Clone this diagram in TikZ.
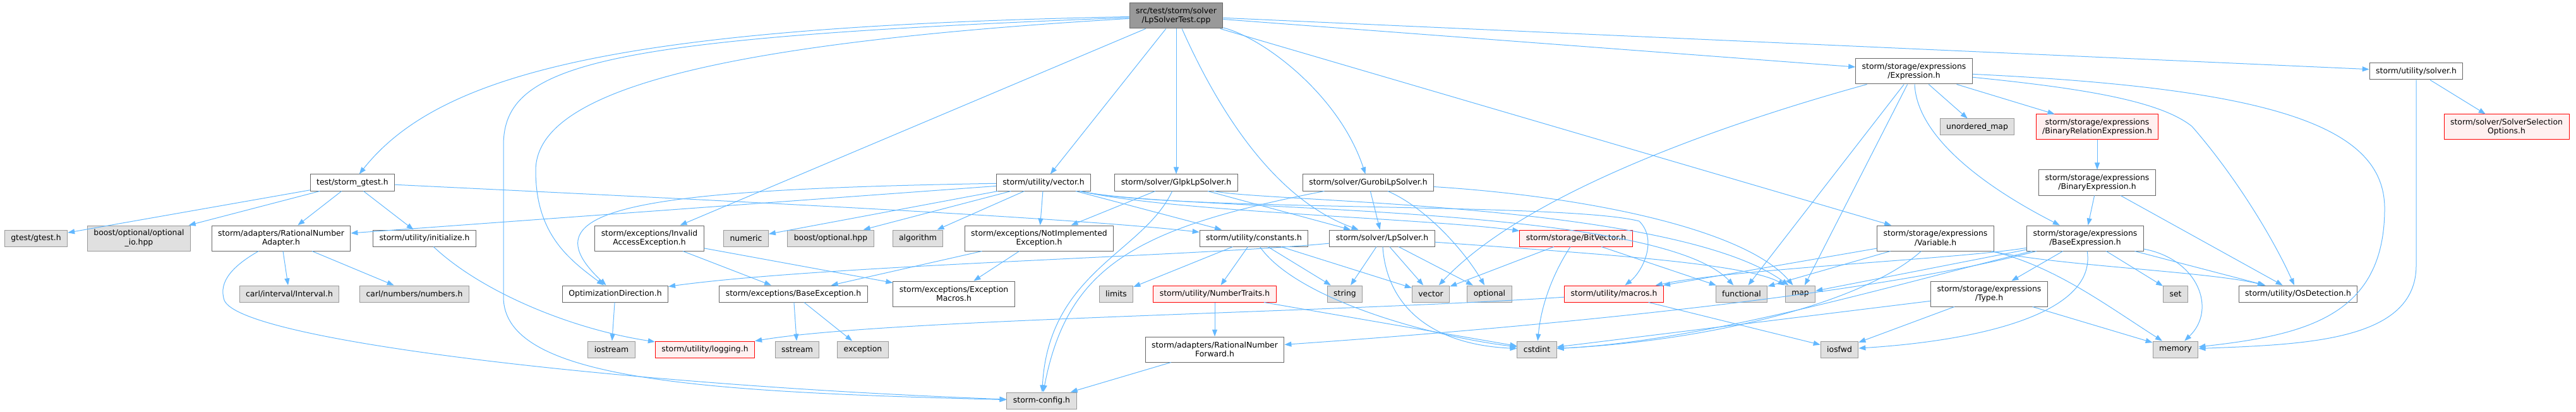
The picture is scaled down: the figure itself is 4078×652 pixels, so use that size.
\documentclass[tikz,border=0pt]{standalone}
\usepackage{fontspec}
\setmainfont{DejaVu Sans}
\usetikzlibrary{arrows.meta}
\definecolor{edgeblue}{HTML}{63B8FF}
\definecolor{boxgray}{HTML}{666666}
\definecolor{sysgray}{HTML}{999999}
\definecolor{sysfill}{HTML}{E0E0E0}
\definecolor{truncfill}{HTML}{FFF0F0}
\definecolor{rootfill}{HTML}{999999}
\newcommand{\graphfont}{\fontsize{12.4}{14.6}\selectfont}
\tikzset{
  hdr/.style={draw=boxgray, fill=white, line width=1pt, font=\graphfont, align=center,
    inner xsep=10pt, inner ysep=2pt, minimum height=26pt},
  tall/.style={minimum height=40pt},
  sysbox/.style={hdr, draw=sysgray, fill=sysfill},
  truncbox/.style={hdr, draw=red, fill=truncfill},
  mainbox/.style={hdr, tall, fill=rootfill},
  incl/.style={draw=edgeblue, line width=1pt, -{Triangle[length=11pt,width=8pt]}},
}
\begin{document}
\begin{tikzpicture}[x=1pt, y=-1pt]
  \useasboundingbox (0,0) rectangle (4078,652);
  \node[mainbox] (root) at (1862,25) {src/test/storm/solver\\/LpSolverTest.cpp};
  \node[hdr, tall] (expr) at (3030,113) {storm/storage/expressions\\/Expression.h};
  \node[hdr] (solverh) at (3825,113) {storm/utility/solver.h};
  \node[sysbox] (umap) at (3130,201) {unordered\_map};
  \node[truncbox, tall] (binrel) at (3320,201) {storm/storage/expressions\\/BinaryRelationExpression.h};
  \node[truncbox, tall] (selopt) at (3968,201) {storm/solver/SolverSelection\\Options.h};
  \node[hdr] (gtesth) at (558,289) {test/storm\_gtest.h};
  \node[hdr] (vectorh) at (1652,289) {storm/utility/vector.h};
  \node[hdr] (glpk) at (1862,289) {storm/solver/GlpkLpSolver.h};
  \node[hdr] (gurobi) at (2166,289) {storm/solver/GurobiLpSolver.h};
  \node[hdr, tall] (binexpr) at (3320,289) {storm/storage/expressions\\/BinaryExpression.h};

  \node[sysbox] (gtest) at (57,377) {gtest/gtest.h};
  \node[sysbox, tall] (optio) at (220,377) {boost/optional/optional\\\_io.hpp};
  \node[hdr, tall] (rnadapter) at (445,377) {storm/adapters/RationalNumber\\Adapter.h};
  \node[hdr] (init) at (672,377) {storm/utility/initialize.h};
  \node[hdr, tall] (invalid) at (1028,377) {storm/exceptions/Invalid\\AccessException.h};
  \node[sysbox] (numeric) at (1181,377) {numeric};
  \node[sysbox] (boostopt) at (1315,377) {boost/optional.hpp};
  \node[sysbox] (algorithm) at (1453,377) {algorithm};
  \node[hdr, tall] (notimpl) at (1645,377) {storm/exceptions/NotImplemented\\Exception.h};
  \node[hdr] (constants) at (1985,377) {storm/utility/constants.h};
  \node[hdr] (lpsolver) at (2188,377) {storm/solver/LpSolver.h};
  \node[truncbox] (bitvector) at (2495,377) {storm/storage/BitVector.h};
  \node[hdr, tall] (variable) at (3064,377) {storm/storage/expressions\\/Variable.h};
  \node[hdr, tall] (baseexpr) at (3301,377) {storm/storage/expressions\\/BaseExpression.h};

  \node[sysbox] (carlint) at (458,465) {carl/interval/Interval.h};
  \node[sysbox] (carlnum) at (656,465) {carl/numbers/numbers.h};
  \node[hdr] (optdir) at (974,465) {OptimizationDirection.h};
  \node[hdr] (baseexc) at (1256,465) {storm/exceptions/BaseException.h};
  \node[hdr, tall] (excmacros) at (1510,465) {storm/exceptions/Exception\\Macros.h};
  \node[sysbox] (limits) at (1767,465) {limits};
  \node[truncbox] (numtraits) at (1923,465) {storm/utility/NumberTraits.h};
  \node[sysbox] (string) at (2129,465) {string};
  \node[sysbox] (stdvector) at (2265,465) {vector};
  \node[sysbox] (optional) at (2358,465) {optional};
  \node[truncbox] (macros) at (2555,465) {storm/utility/macros.h};
  \node[sysbox] (functional) at (2757,465) {functional};
  \node[sysbox] (map) at (2850,465) {map};
  \node[hdr, tall] (type) at (3149,465) {storm/storage/expressions\\/Type.h};
  \node[sysbox] (set) at (3444,465) {set};
  \node[hdr] (osdet) at (3638,465) {storm/utility/OsDetection.h};

  \node[sysbox] (iostream) at (968,553) {iostream};
  \node[truncbox] (logging) at (1116,553) {storm/utility/logging.h};
  \node[sysbox] (sstream) at (1262,553) {sstream};
  \node[sysbox] (exception) at (1366,553) {exception};
  \node[hdr, tall] (rnforward) at (1923,553) {storm/adapters/RationalNumber\\Forward.h};
  \node[sysbox] (cstdint) at (2433,553) {cstdint};
  \node[sysbox] (iosfwd) at (2912,553) {iosfwd};
  \node[sysbox] (memory) at (3444,553) {memory};
  \node[sysbox] (stormcfg) at (1649,634) {storm-config.h};

  \draw[incl] (root) .. controls (1000,42) and (700,110) .. (gtesth);
  \draw[incl] (root) .. controls (950,60) and (797,100) .. (797,230) -- (797,470)
    .. controls (797,600) and (1100,620) .. (stormcfg);
  \draw[incl] (root) .. controls (1100,70) and (848,150) .. (848,270)
    .. controls (848,370) and (900,410) .. (optdir);
  \draw[incl] (root) -- (invalid);
  \draw[incl] (root) -- (vectorh);
  \draw[incl] (root) -- (glpk);
  \draw[incl] (root) .. controls (1940,200) and (2030,320) .. (lpsolver);
  \draw[incl] (root) .. controls (2000,60) and (2120,150) .. (gurobi);
  \draw[incl] (root) -- (variable);
  \draw[incl] (root) -- (expr);
  \draw[incl] (root) -- (solverh);

  \draw[incl] (gtesth) -- (gtest);
  \draw[incl] (gtesth) -- (optio);
  \draw[incl] (gtesth) -- (rnadapter);
  \draw[incl] (gtesth) -- (init);
  \draw[incl] (gtesth) .. controls (1200,320) and (1700,345) .. (constants);
  \draw[incl] (rnadapter) -- (carlint);
  \draw[incl] (rnadapter) -- (carlnum);
  \draw[incl] (rnadapter) .. controls (370,420) and (345,445) .. (355,475)
    .. controls (380,540) and (1000,610) .. (stormcfg);
  \draw[incl] (init) .. controls (760,460) and (900,520) .. (logging);

  \draw[incl] (vectorh) -- (rnadapter);
  \draw[incl] (vectorh) .. controls (1000,300) and (830,330) .. (optdir);
  \draw[incl] (vectorh) -- (numeric);
  \draw[incl] (vectorh) -- (boostopt);
  \draw[incl] (vectorh) -- (algorithm);
  \draw[incl] (vectorh) -- (notimpl);
  \draw[incl] (vectorh) -- (constants);
  \draw[incl] (vectorh) .. controls (1850,335) and (2250,345) .. (bitvector);
  \draw[incl] (vectorh) .. controls (1850,335) and (2480,320) .. (2595,350)
    .. controls (2625,380) and (2600,430) .. (macros);
  \draw[incl] (vectorh) .. controls (1850,335) and (2620,320) .. (functional);

  \draw[incl] (glpk) -- (lpsolver);
  \draw[incl] (glpk) -- (notimpl);
  \draw[incl] (glpk) .. controls (1810,400) and (1660,430) .. (stormcfg);
  \draw[incl] (glpk) .. controls (2000,320) and (2650,320) .. (map);
  \draw[incl] (gurobi) -- (lpsolver);
  \draw[incl] (gurobi) .. controls (1800,360) and (1690,420) .. (stormcfg);
  \draw[incl] (gurobi) .. controls (2260,330) and (2320,400) .. (optional);
  \draw[incl] (gurobi) .. controls (2500,310) and (2760,360) .. (map);

  \draw[incl] (expr) -- (umap);
  \draw[incl] (expr) -- (binrel);
  \draw[incl] (expr) .. controls (3035,220) and (3150,300) .. (baseexpr);
  \draw[incl] (expr) -- (functional);
  \draw[incl] (expr) -- (map);
  \draw[incl] (expr) .. controls (2750,190) and (2420,300) .. (stdvector);
  \draw[incl] (expr) .. controls (3600,140) and (3775,200) .. (3775,330)
    .. controls (3775,500) and (3650,530) .. (memory);
  \draw[incl] (expr) .. controls (3300,140) and (3420,160) .. (3470,200)
    .. controls (3540,280) and (3600,380) .. (osdet);
  \draw[incl] (solverh) -- (selopt);
  \draw[incl] (solverh) -- (3825,420) .. controls (3825,540) and (3650,545) .. (memory);
  \draw[incl] (binrel) -- (binexpr);
  \draw[incl] (binexpr) -- (baseexpr);
  \draw[incl] (binexpr) -- (osdet);

  \draw[incl] (invalid) -- (baseexc);
  \draw[incl] (invalid) -- (excmacros);
  \draw[incl] (notimpl) -- (baseexc);
  \draw[incl] (notimpl) -- (excmacros);
  \draw[incl] (baseexc) -- (sstream);
  \draw[incl] (baseexc) -- (exception);
  \draw[incl] (optdir) -- (iostream);

  \draw[incl] (constants) -- (limits);
  \draw[incl] (constants) -- (numtraits);
  \draw[incl] (constants) -- (string);
  \draw[incl] (constants) -- (stdvector);
  \draw[incl] (constants) .. controls (2050,470) and (2250,530) .. (cstdint);
  \draw[incl] (numtraits) -- (rnforward);
  \draw[incl] (numtraits) -- (cstdint);
  \draw[incl] (rnforward) -- (stormcfg);

  \draw[incl] (lpsolver) .. controls (1900,405) and (1300,420) .. (optdir);
  \draw[incl] (lpsolver) -- (string);
  \draw[incl] (lpsolver) .. controls (2195,480) and (2260,545) .. (cstdint);
  \draw[incl] (lpsolver) -- (stdvector);
  \draw[incl] (lpsolver) -- (optional);
  \draw[incl] (lpsolver) .. controls (2500,400) and (2760,415) .. (map);
  \draw[incl] (bitvector) -- (stdvector);
  \draw[incl] (bitvector) .. controls (2460,430) and (2440,480) .. (cstdint);
  \draw[incl] (bitvector) -- (functional);
  \draw[incl] (macros) .. controls (2100,495) and (1400,505) .. (logging);
  \draw[incl] (macros) -- (iosfwd);

  \draw[incl] (variable) -- (macros);
  \draw[incl] (variable) -- (functional);
  \draw[incl] (variable) .. controls (2950,480) and (2700,540) .. (cstdint);
  \draw[incl] (variable) .. controls (3250,420) and (3500,430) .. (osdet);
  \draw[incl] (variable) .. controls (3250,420) and (3330,480) .. (memory);
  \draw[incl] (baseexpr) -- (type);
  \draw[incl] (baseexpr) -- (set);
  \draw[incl] (baseexpr) -- (osdet);
  \draw[incl] (baseexpr) -- (map);
  \draw[incl] (baseexpr) .. controls (3100,410) and (2750,425) .. (macros);
  \draw[incl] (baseexpr) .. controls (3000,450) and (2700,540) .. (cstdint);
  \draw[incl] (baseexpr) .. controls (2950,470) and (2400,520) .. (rnforward);
  \draw[incl] (baseexpr) .. controls (3320,500) and (3120,540) .. (iosfwd);
  \draw[incl] (baseexpr) .. controls (3480,410) and (3510,490) .. (memory);
  \draw[incl] (type) -- (cstdint);
  \draw[incl] (type) -- (iosfwd);
  \draw[incl] (type) -- (memory);
\end{tikzpicture}
\end{document}
